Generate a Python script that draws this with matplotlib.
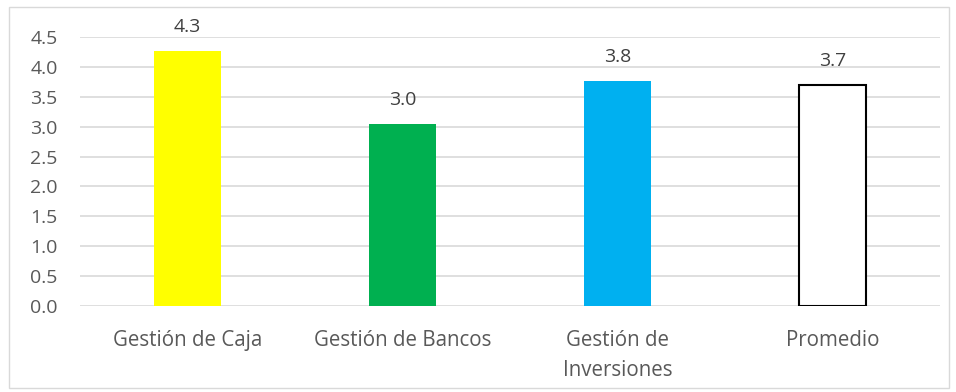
import matplotlib.pyplot as plt
from matplotlib.patches import Rectangle

categorias = ['Gestión de Caja', 'Gestión de Bancos', 'Gestión de\nInversiones', 'Promedio']
valores = [4.26, 3.04, 3.76, 3.69]
etiquetas = ['4.3', '3.0', '3.8', '3.7']
colores = ['#FFFF00', '#00B050', '#00B0F0', 'white']
bordes = ['none', 'none', 'none', 'black']

plt.rcParams['font.family'] = ['Open Sans', 'DejaVu Sans']

fig = plt.figure(figsize=(9.56, 3.92), dpi=100)
ax = fig.add_axes([80 / 956, 1 - 306 / 392, 860 / 956, 269 / 392])

x = range(len(categorias))
barras = ax.bar(x, valores, width=0.316, color=colores, edgecolor=bordes, linewidth=1.5, zorder=3)

for b, t in zip(barras, etiquetas):
    ax.annotate(t, (b.get_x() + b.get_width() / 2, b.get_height()), xytext=(0, 11),
                textcoords='offset points', ha='center', va='bottom', fontsize=14, color='#404040')

ax.set_xlim(-0.5, 3.5)
ax.set_ylim(0, 4.5)
ax.set_yticks([i * 0.5 for i in range(10)])
ax.set_yticklabels([f'{i * 0.5:.1f}' for i in range(10)])
ax.set_xticks(list(x))
ax.set_xticklabels(categorias, linespacing=1.6)
ax.tick_params(axis='both', length=0, colors='#595959')
ax.tick_params(axis='x', pad=17, labelsize=14.8)
ax.tick_params(axis='y', pad=16, labelsize=14)
ax.grid(axis='y', color='#D9D9D9', linewidth=1.2, zorder=0)
for s in ax.spines.values():
    s.set_visible(False)

fig.patches.append(Rectangle((9 / 956, 4 / 392), 940 / 956, 381 / 392, transform=fig.transFigure,
                             fill=False, edgecolor='#D9D9D9', linewidth=1))

fig.savefig('out.png', dpi=100)
